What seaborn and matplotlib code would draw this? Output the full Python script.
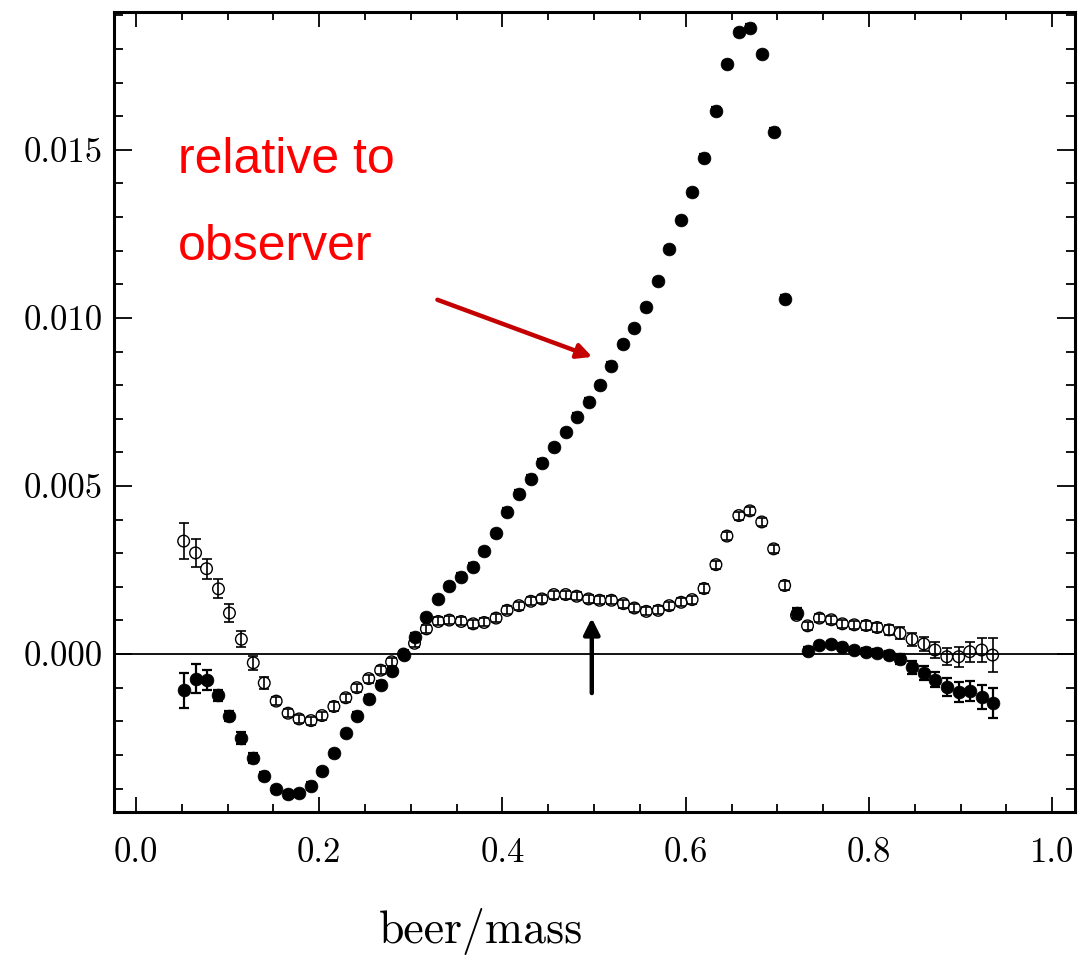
import numpy as np
import pandas as pd
import matplotlib
matplotlib.use("Agg")
import matplotlib.pyplot as plt
import seaborn as sns
from matplotlib import font_manager
from matplotlib.ticker import MultipleLocator, FormatStrFormatter

# x positions of the bins (beer/mass)
x_vals = [0.052, 0.065, 0.077, 0.090, 0.102, 0.115, 0.128, 0.140, 0.153, 0.166,
          0.178, 0.191, 0.203, 0.216, 0.229, 0.241, 0.254, 0.267, 0.279, 0.292,
          0.304, 0.317, 0.330, 0.342, 0.355, 0.368, 0.380, 0.393, 0.405, 0.418,
          0.431, 0.443, 0.456, 0.469, 0.481, 0.494, 0.506, 0.519, 0.532, 0.544,
          0.557, 0.570, 0.582, 0.595, 0.607, 0.620, 0.633, 0.645, 0.658, 0.670,
          0.683, 0.696, 0.708, 0.721, 0.733, 0.746, 0.759, 0.771, 0.784, 0.797,
          0.809, 0.822, 0.834, 0.847, 0.860, 0.872, 0.885, 0.898, 0.910, 0.923,
          0.935]

# filled points ("relative to observer"), in units of 1e-3
filled_y = [-1.08, -0.73, -0.78, -1.23, -1.83, -2.49, -3.10, -3.62, -4.02, -4.17,
            -4.14, -3.92, -3.49, -2.95, -2.35, -1.83, -1.33, -0.91, -0.50, -0.03,
            0.52, 1.10, 1.64, 2.01, 2.30, 2.60, 3.06, 3.59, 4.24, 4.77,
            5.22, 5.69, 6.16, 6.61, 7.06, 7.51, 8.00, 8.58, 9.21, 9.70,
            10.32, 11.10, 12.05, 12.91, 13.74, 14.77, 16.16, 17.55, 18.50, 18.63,
            17.85, 15.54, 10.57, 1.22, 0.10, 0.27, 0.30, 0.22, 0.12, 0.07,
            0.04, -0.03, -0.16, -0.40, -0.56, -0.76, -0.98, -1.13, -1.10, -1.28,
            -1.46]
filled_err = [0.52, 0.42, 0.30, 0.16, 0.15, 0.18, 0.15, 0.12, 0.10, 0.10,
              0.10, 0.10, 0.10, 0.10, 0.10, 0.10, 0.10, 0.10, 0.10, 0.10,
              0.10, 0.10, 0.10, 0.10, 0.10, 0.10, 0.10, 0.10, 0.10, 0.10,
              0.10, 0.10, 0.10, 0.10, 0.10, 0.10, 0.10, 0.10, 0.10, 0.10,
              0.10, 0.10, 0.10, 0.10, 0.10, 0.10, 0.10, 0.10, 0.10, 0.10,
              0.10, 0.10, 0.10, 0.15, 0.10, 0.10, 0.10, 0.10, 0.10, 0.10,
              0.10, 0.12, 0.15, 0.20, 0.20, 0.22, 0.28, 0.30, 0.30, 0.35,
              0.45]

# open points, in units of 1e-3
open_y = [3.36, 3.01, 2.54, 1.94, 1.22, 0.44, -0.26, -0.86, -1.40, -1.76,
          -1.93, -1.98, -1.83, -1.56, -1.30, -1.00, -0.73, -0.48, -0.23, 0.00,
          0.32, 0.75, 0.97, 1.01, 0.97, 0.90, 0.94, 1.07, 1.30, 1.44,
          1.57, 1.64, 1.77, 1.77, 1.72, 1.64, 1.60, 1.60, 1.50, 1.37,
          1.27, 1.30, 1.44, 1.54, 1.62, 1.95, 2.66, 3.51, 4.12, 4.26,
          3.93, 3.13, 2.04, 1.15, 0.84, 1.07, 1.02, 0.90, 0.87, 0.85,
          0.79, 0.72, 0.62, 0.44, 0.30, 0.12, -0.08, -0.08, 0.07, 0.12,
          -0.03]
open_err = [0.54, 0.42, 0.30, 0.28, 0.28, 0.24, 0.21, 0.18, 0.12, 0.12,
            0.12, 0.12, 0.12, 0.12, 0.12, 0.12, 0.12, 0.12, 0.12, 0.12,
            0.12, 0.12, 0.12, 0.12, 0.12, 0.12, 0.12, 0.12, 0.12, 0.12,
            0.12, 0.12, 0.12, 0.12, 0.12, 0.12, 0.12, 0.12, 0.12, 0.12,
            0.12, 0.12, 0.12, 0.12, 0.12, 0.12, 0.12, 0.12, 0.12, 0.12,
            0.12, 0.12, 0.12, 0.12, 0.12, 0.12, 0.12, 0.12, 0.12, 0.12,
            0.12, 0.15, 0.18, 0.20, 0.22, 0.25, 0.25, 0.30, 0.30, 0.35,
            0.50]

scale = 1e-3
df_open = pd.DataFrame({"x": x_vals, "y": np.array(open_y) * scale,
                        "err": np.array(open_err) * scale})
df_filled = pd.DataFrame({"x": x_vals, "y": np.array(filled_y) * scale,
                          "err": np.array(filled_err) * scale})

sns.set_theme(style="ticks")
plt.rcParams["axes.unicode_minus"] = False

fig = plt.figure(figsize=(10.89, 9.55), dpi=100)
ax = fig.add_axes([0.1047, 0.1497, 0.8825, 0.8377])

ax.axhline(0, color="black", lw=1.3, zorder=1)

# open points: hollow circles with error bars through them
ax.errorbar(df_open.x, df_open.y, yerr=df_open.err, fmt="none", ecolor="black",
            elinewidth=1.2, capsize=3.5, capthick=1.2, zorder=2)
sns.scatterplot(data=df_open, x="x", y="y", ax=ax, marker="o", s=70,
                facecolor="none", edgecolor="black", linewidth=1.0, zorder=3)

# filled points
ax.errorbar(df_filled.x, df_filled.y, yerr=df_filled.err, fmt="none", ecolor="black",
            elinewidth=1.6, capsize=3.5, capthick=1.6, zorder=4)
sns.scatterplot(data=df_filled, x="x", y="y", ax=ax, marker="o", s=85,
                color="black", edgecolor="black", linewidth=0.5, zorder=5)

ax.set_xlim(-0.024, 1.025)
ax.set_ylim(-0.00470, 0.0191)
ax.set_xlabel("")
ax.set_ylabel("")

ax.xaxis.set_major_locator(MultipleLocator(0.2))
ax.xaxis.set_minor_locator(MultipleLocator(0.05))
ax.yaxis.set_major_locator(MultipleLocator(0.005))
ax.yaxis.set_minor_locator(MultipleLocator(0.001))
ax.xaxis.set_major_formatter(FormatStrFormatter("%.1f"))
ax.yaxis.set_major_formatter(FormatStrFormatter("%.3f"))

ax.tick_params(which="both", direction="in", top=True, right=True,
               color="black", width=1.3)
ax.tick_params(axis="y", which="major", length=13, pad=8)
ax.tick_params(axis="y", which="minor", length=6.5)
ax.tick_params(axis="x", which="major", length=11, pad=18)
ax.tick_params(axis="x", which="minor", length=6)
for lab in ax.get_xticklabels() + ax.get_yticklabels():
    lab.set_fontfamily("cmr10")
    lab.set_fontsize(25)
    lab.set_color("black")

for sp in ax.spines.values():
    sp.set_linewidth(2.2)
    sp.set_color("black")

# annotation arrows
ax.annotate("", xy=(0.498, 0.00884), xytext=(0.329, 0.01054),
            arrowprops=dict(arrowstyle="-|>", color="#c40000", lw=3.2,
                            mutation_scale=22, shrinkA=0, shrinkB=0))
ax.annotate("", xy=(0.4975, 0.00107), xytext=(0.4975, -0.00116),
            arrowprops=dict(arrowstyle="-|>", color="black", lw=3.2,
                            mutation_scale=24, shrinkA=0, shrinkB=0))

# red label
names = {f.name for f in font_manager.fontManager.ttflist}
if "Liberation Sans Narrow" in names:
    red_font, red_size = "Liberation Sans Narrow", 43
else:
    red_font, red_size = "Liberation Sans", 36
fig.text(178 / 1089, 1 - 173 / 955, "relative to", color="#ff0000",
         fontfamily=red_font, fontsize=red_size, va="baseline", ha="left")
fig.text(178 / 1089, 1 - 260 / 955, "observer", color="#ff0000",
         fontfamily=red_font, fontsize=red_size, va="baseline", ha="left")

fig.text(481 / 1089, 1 - 943 / 955, "beer/mass", color="black",
         fontfamily="cmr10", fontsize=33, va="baseline", ha="center")

fig.savefig("out.png", dpi=100)
